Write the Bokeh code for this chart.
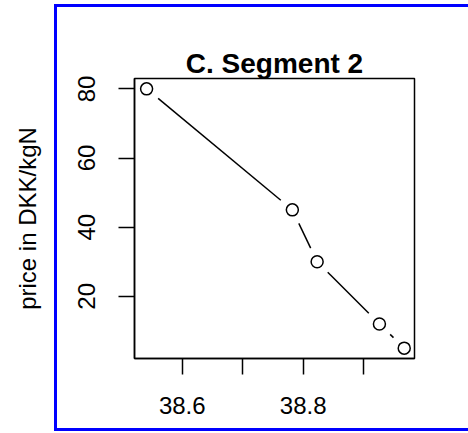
import math
from bokeh.plotting import figure
from bokeh.models import Range1d, FixedTicker
from bokeh.embed import file_html
from bokeh.resources import INLINE

# ---- data ----
x_vals = [38.541, 38.782, 38.823, 38.926, 38.967]
y_vals = [80, 45, 30, 12, 5]
x_ticks = [38.6, 38.7, 38.8, 38.9]
x_tick_labels = {38.6: "38.6", 38.7: "", 38.8: "38.8", 38.9: ""}
y_ticks = [20, 40, 60, 80]
title_text = "C. Segment 2"
y_label = "price in DKK/kgN"

FONT = "Liberation Sans"
W, H = 468, 433
ML, MR, MT, MB = 134, 54, 78, 75
x0, x1 = 38.521, 38.984
y0, y1 = 2.0, 83.0

# decorative blue frame (page-level), drawn as CSS background of the figure host
BLUE = "#0000ff"
frame_css = (
    f"linear-gradient({BLUE},{BLUE}) 54px 4px / 3px 427px no-repeat, "
    f"linear-gradient({BLUE},{BLUE}) 54px 4px / 420px 3px no-repeat, "
    f"linear-gradient({BLUE},{BLUE}) 54px 428px / 420px 3px no-repeat, "
    "white"
)

p = figure(width=W, height=H, output_backend="svg", toolbar_location=None,
           x_range=Range1d(x0, x1), y_range=Range1d(y0, y1),
           min_border_left=ML, min_border_right=MR,
           min_border_top=MT, min_border_bottom=MB,
           title=title_text)
p.styles = {"background": frame_css}
p.background_fill_color = "white"
p.border_fill_color = None
p.outline_line_color = "black"
p.outline_line_width = 1.5
p.xgrid.visible = False
p.ygrid.visible = False

p.title.align = "center"
p.title.text_font = FONT
p.title.text_font_size = "28px"
p.title.text_font_style = "bold"
p.title.text_color = "black"
p.title.standoff = 0
p.title.offset = 0

for ax in (p.xaxis[0], p.yaxis[0]):
    ax.major_tick_out = 16
    ax.major_tick_in = 0
    ax.minor_tick_out = 0
    ax.minor_tick_in = 0
    ax.major_tick_line_color = "black"
    ax.major_tick_line_width = 1.5
    ax.axis_line_color = "black"
    ax.axis_line_width = 1.5
    ax.major_label_text_font = FONT
    ax.major_label_text_font_size = "24px"
    ax.major_label_text_color = "black"

p.xaxis.ticker = FixedTicker(ticks=x_ticks)
p.xaxis.major_label_overrides = x_tick_labels
p.xaxis.major_label_standoff = 22

p.yaxis.ticker = FixedTicker(ticks=y_ticks)
p.yaxis.major_label_orientation = "vertical"
p.yaxis.major_label_standoff = 23
p.yaxis.axis_label = y_label
p.yaxis.axis_label_text_font = FONT
p.yaxis.axis_label_text_font_size = "24px"
p.yaxis.axis_label_text_font_style = "normal"
p.yaxis.axis_label_text_color = "black"
p.yaxis.axis_label_standoff = 35

# ---- R type="b": line segments with gaps around points ----
frame_w = W - ML - MR
frame_h = H - MT - MB
sx = frame_w / (x1 - x0)
sy = frame_h / (y1 - y0)
gap = 15.0
xs0, ys0, xs1, ys1 = [], [], [], []
for i in range(len(x_vals) - 1):
    ax_, ay_ = x_vals[i] * sx, y_vals[i] * sy
    bx_, by_ = x_vals[i + 1] * sx, y_vals[i + 1] * sy
    dx, dy = bx_ - ax_, by_ - ay_
    d = math.hypot(dx, dy)
    if d > 2 * gap:
        ux, uy = dx / d, dy / d
        xs0.append((ax_ + gap * ux) / sx)
        ys0.append((ay_ + gap * uy) / sy)
        xs1.append((bx_ - gap * ux) / sx)
        ys1.append((by_ - gap * uy) / sy)

p.segment(x0=xs0, y0=ys0, x1=xs1, y1=ys1, line_color="black", line_width=1.5)
p.scatter(x=x_vals, y=y_vals, marker="circle", size=12, fill_color=None,
          line_color="black", line_width=1.5)

open("out.html", "w").write(file_html(p, INLINE))
